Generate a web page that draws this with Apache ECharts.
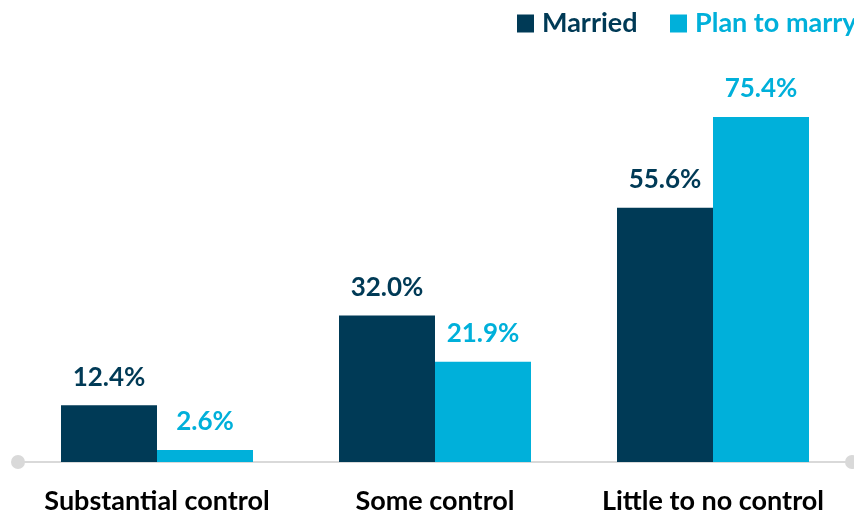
<!DOCTYPE html>
<html><head><meta charset="utf-8">
<script src="https://cdn.jsdelivr.net/npm/echarts@6/dist/echarts.min.js"></script>
<style>html,body{margin:0;padding:0;background:#fff}#c{width:854px;height:516px}</style>
</head><body><div id="c"></div>
<script>
const categories = ['Substantial control', 'Some control', 'Little to no control'];
const married = [12.4, 32.0, 55.6];
const planToMarry = [2.6, 21.9, 75.4];
const seriesNames = ['Married', 'Plan to marry'];

const FONT = 'Lato';
const FS = 27;
const C1 = '#003A56', C2 = '#00B0DA';
const chart = echarts.init(document.getElementById('c'));
const lbl = (color) => ({show: true, position: 'top', distance: 15, color: color, fontFamily: FONT, fontWeight: 'bold', fontSize: 26, formatter: p => p.value.toFixed(1) + '%'});
chart.setOption({
  animation: false,
  legend: [
    {left: 517, top: 10, padding: 0, itemWidth: 17, itemHeight: 18, itemGap: 30, icon: 'rect', data: [seriesNames[0]],
     textStyle: {fontFamily: FONT, fontWeight: 'bold', fontSize: FS, color: C1, padding: [0, 0, 0, 3]}},
    {left: 670, top: 10, padding: 0, itemWidth: 17, itemHeight: 18, icon: 'rect', data: [seriesNames[1]],
     textStyle: {fontFamily: FONT, fontWeight: 'bold', fontSize: FS, color: C2, padding: [0, 0, 0, 3]}}
  ],
  grid: {left: 18, right: 2, top: 96, bottom: 54, containLabel: false},
  xAxis: {type: 'category', data: categories,
    axisLine: {show: true, symbol: ['circle', 'circle'], symbolSize: [14, 14], lineStyle: {color: '#D9D9D9', width: 2}},
    axisTick: {show: false},
    axisLabel: {interval: 0, color: '#000', fontFamily: FONT, fontWeight: 'bold', fontSize: FS, margin: 26}},
  yAxis: {type: 'value', min: 0, max: 80, show: false, splitLine: {show: false}},
  series: [
    {name: seriesNames[0], type: 'bar', data: married, barWidth: 96, barGap: '0%', itemStyle: {color: C1}, label: lbl(C1)},
    {name: seriesNames[1], type: 'bar', data: planToMarry, barWidth: 96, barGap: '0%', itemStyle: {color: C2}, label: lbl(C2)}
  ]
});
</script></body></html>
